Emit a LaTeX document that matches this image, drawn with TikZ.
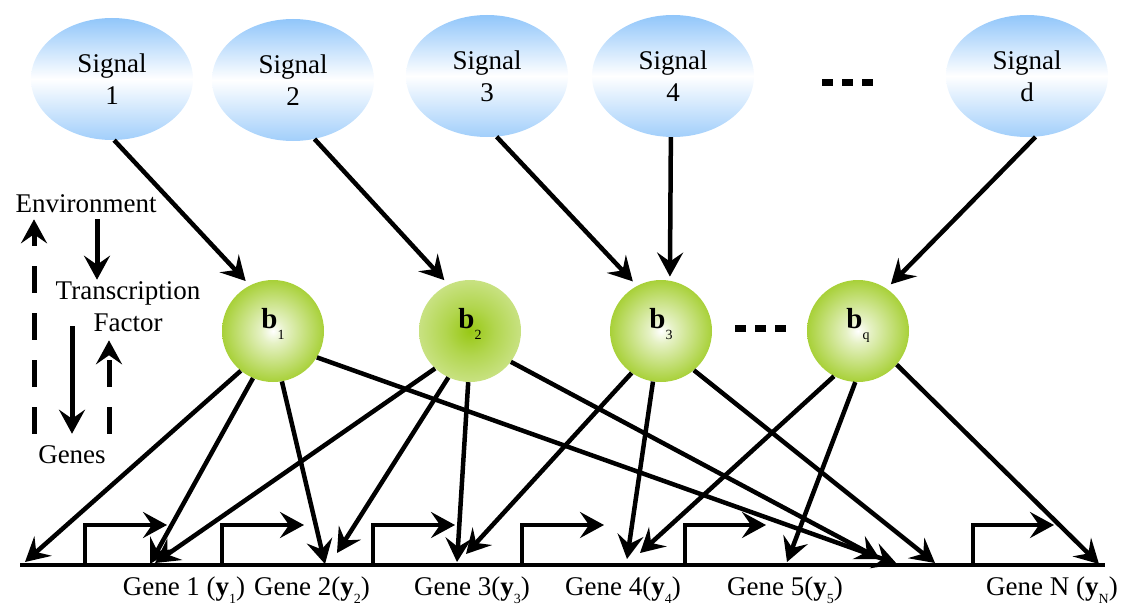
\documentclass[tikz,border=0pt]{standalone}
\usepackage{fontspec}
\setmainfont{Liberation Serif}
\usetikzlibrary{shapes.geometric,arrows.meta}
\definecolor{sigblue}{RGB}{145,198,250}
\definecolor{ballgreen}{RGB}{152,200,20}
\pgfdeclareradialshading{ballA}{\pgfpoint{0bp}{0bp}}{color(0bp)=(white); color(6bp)=(ballgreen!25!white); color(30bp)=(ballgreen); color(50bp)=(ballgreen)}
\pgfdeclareradialshading{ballB}{\pgfpoint{0bp}{0bp}}{color(0bp)=(ballgreen); color(12bp)=(ballgreen!75!white); color(36bp)=(ballgreen!35!white); color(50bp)=(ballgreen!8!white)}
\newcommand\myfs{\fontsize{27}{32}\selectfont}
\newcommand\blab[1]{{\fontsize{29}{29}\selectfont\bfseries b}\raisebox{-11pt}{\fontsize{14}{14}\selectfont #1}}
\newcommand\yb[1]{\textbf{y}\raisebox{-8pt}{\fontsize{14}{14}\selectfont #1}}
\tikzset{
  sig/.style={ellipse, minimum width=162pt, minimum height=122pt, inner sep=0pt,
    top color=sigblue, bottom color=sigblue!85!white, middle color=white, align=center, font=\myfs},
  ball/.style={circle, minimum size=102pt, inner sep=0pt, shading=ballA, text height=14pt, text depth=20pt},
  txt/.style={font=\myfs, inner sep=2pt},
  conn/.style={line width=4.5pt, -{Stealth[length=24pt,width=26pt,inset=9pt]}},
  larr/.style={line width=5pt, -{Stealth[length=24pt,width=26pt,inset=9pt]}},
  ldash/.style={larr, dash pattern=on 27pt off 20pt},
  prom/.style={line width=4.5pt, -{Stealth[length=24pt,width=26pt,inset=9pt]}},
  baseln/.style={line width=3.5pt},
  dotsln/.style={line width=7pt, dash pattern=on 11pt off 9pt}
}
\begin{document}
\begin{tikzpicture}[x=1pt,y=-1pt]
\useasboundingbox (0,0) rectangle (1123,610);
% signals
\node[sig] (s1) at (112,79) {Signal\\1};
\node[sig] (s2) at (293,80) {Signal\\2};
\node[sig] (s3) at (487,76) {Signal\\3};
\node[sig] (s4) at (673,76) {Signal\\4};
\node[sig] (sd) at (1027,76) {Signal\\d};
\draw[dotsln] (822,82) -- (876,82);
% balls
\node[ball] (b1) at (273,331) {\blab{1}};
\node[ball, shading=ballB] (b2) at (470,331) {\blab{2}};
\node[ball] (b3) at (661,331) {\blab{3}};
\node[ball] (bq) at (858,331) {\blab{q}};
\draw[dotsln] (735,328) -- (789,328);
% signal arrows
\draw[conn, shorten >=6pt] (s1.-88) -- (b1.117);
\draw[conn, shorten >=6pt] (s2.-70) -- (b2.115);
\draw[conn, shorten >=6pt] (s3.-81) -- (b3.118);
\draw[conn, shorten >=4pt] (s4.-92) -- (b3.80);
\draw[conn, shorten >=6pt] (sd.-82) -- (bq.56);
% legend
\node[txt] (env) at (86,204) {Environment};
\node[txt, align=center] (tf) at (128,307) {Transcription\\Factor};
\node[txt] (genes) at (72,455) {Genes};
\draw[larr, shorten <=4pt] ([xshift=11pt]env.south) -- ([xshift=-31pt]tf.north);
\draw[larr] ([xshift=-56pt,yshift=8pt]tf.south) -- ([yshift=10pt]genes.north);
\draw[ldash] ([xshift=37pt,yshift=10pt]genes.north) -- ([xshift=-19pt,yshift=-6pt]tf.south);
\draw[ldash] ([xshift=-38pt,yshift=10pt]genes.north) -- ([xshift=-52pt,yshift=-4pt]env.south);
% base line and promoters
\draw[baseln] (20,565) -- (1105,565);
\draw[prom] (85,565) |- (167,525);
\draw[prom] (222,565) |- (304,525);
\draw[prom] (373,565) |- (455,525);
\draw[prom] (522,565) |- (604,525);
\draw[prom] (685,565) |- (766,525);
\draw[prom] (973,565) |- (1054,525);
% targets
\coordinate (p1) at (25,562);
\coordinate (p2) at (150,564);
\coordinate (p3) at (325,564);
\coordinate (p4) at (897,564);
\coordinate (p5) at (155,563);
\coordinate (p6) at (337,553);
\coordinate (p7) at (457,562);
\coordinate (p8) at (880,559);
\coordinate (p9) at (466,554);
\coordinate (p10) at (627,559);
\coordinate (p11) at (935,563);
\coordinate (p12) at (640,553);
\coordinate (p13) at (787,562);
\coordinate (p14) at (1099,564);
\draw[conn] (b1.231) -- (p1);
\draw[conn] (b1.247) -- (p2);
\draw[conn] (b1.-80) -- (p3);
\draw[conn] (b1.-31) -- (p4);
\draw[conn] (b2.227) -- (p5);
\draw[conn] (b2.245) -- (p6);
\draw[conn] (b2.-92) -- (p7);
\draw[conn] (b2.-37) -- (p8);
\draw[conn] (b3.235) -- (p9);
\draw[conn] (b3.-99) -- (p10);
\draw[conn] (b3.-50) -- (p11);
\draw[conn] (bq.242) -- (p12);
\draw[conn] (bq.-93) -- (p13);
\draw[conn] (bq.-41) -- (p14);
% gene labels
\node[txt] (g1) at (184,590) {Gene 1 (\yb{1})};
\node[txt] (g2) at (312,590) {Gene 2(\yb{2})};
\node[txt] (g3) at (472,590) {Gene 3(\yb{3})};
\node[txt] (g4) at (623,590) {Gene 4(\yb{4})};
\node[txt] (g5) at (785,590) {Gene 5(\yb{5})};
\node[txt] (gN) at (1052,590) {Gene N (\yb{N})};
\end{tikzpicture}
\end{document}
